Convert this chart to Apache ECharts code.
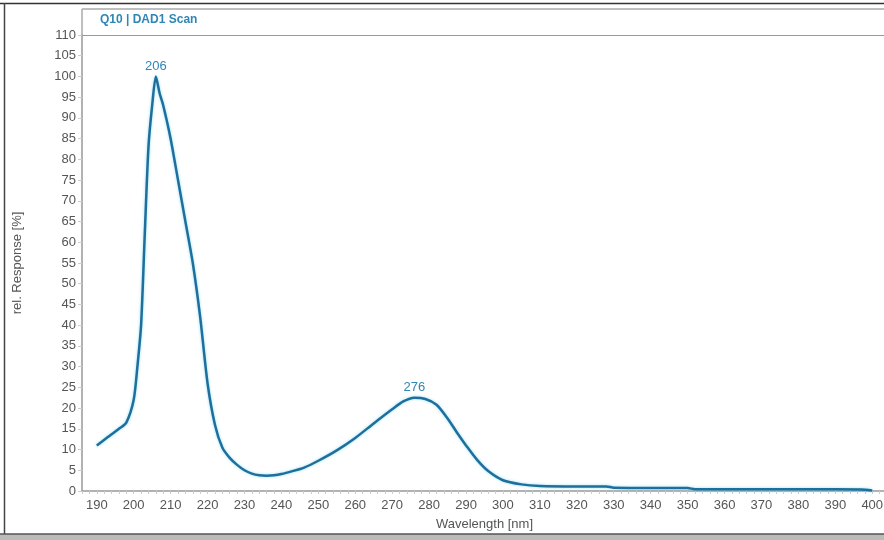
<!DOCTYPE html>
<html>
<head>
<meta charset="utf-8">
<script src="https://cdn.jsdelivr.net/npm/echarts@6/dist/echarts.min.js"></script>
<style>
html, body { margin:0; padding:0; background:#fff; }
#chart { width:884px; height:540px; }
</style>
</head>
<body>
<div id="chart"></div>
<script>
// spectrum
var wavelengths = [190, 193, 196, 198, 200, 201, 202, 203, 204, 205, 206, 207, 208, 210, 212, 214, 216, 218, 220, 222, 224, 226, 228, 230, 232, 234, 236, 238, 240, 243, 246, 250, 255, 260, 265, 270, 273, 276, 279, 282, 285, 288, 290, 293, 296, 300, 305, 310, 320, 328, 330, 350, 352, 370, 390, 397, 400];
var response = [11, 13, 15, 16.5, 22, 30, 40, 62, 83, 93, 100, 96, 93, 85, 75, 65, 55, 42, 26, 16, 10.5, 8, 6.3, 5, 4.2, 3.8, 3.7, 3.8, 4.1, 4.8, 5.6, 7.3, 9.8, 12.8, 16.3, 19.7, 21.6, 22.5, 22.2, 20.8, 17.5, 13.5, 11, 7.5, 4.8, 2.6, 1.6, 1.2, 1.1, 1.1, 0.8, 0.7, 0.45, 0.4, 0.4, 0.35, 0.1];
var peaks = [206, 276];
var xTicks = [190, 200, 210, 220, 230, 240, 250, 260, 270, 280, 290, 300, 310, 320, 330, 340, 350, 360, 370, 380, 390, 400];
var yTicks = [0, 5, 10, 15, 20, 25, 30, 35, 40, 45, 50, 55, 60, 65, 70, 75, 80, 85, 90, 95, 100, 105, 110];

var chart = echarts.init(document.getElementById('chart'));
var font = 'Liberation Sans, Arial, sans-serif';

var seriesData = [];
for (var i = 0; i < wavelengths.length; i++) {
	seriesData.push([wavelengths[i], response[i]]);
}

var peakMarks = [];
for (var j = 0; j < peaks.length; j++) {
	var k = wavelengths.indexOf(peaks[j]);
	peakMarks.push({ coord: [peaks[j], response[k]], value: peaks[j] });
}

chart.setOption({
	animation: false,
	textStyle: { fontFamily: font },
	grid: { left: 82, top: 35, right: -3, bottom: 49, outerBoundsMode: 'none' },
	xAxis: {
		type: 'value',
		min: 186,
		max: 404,
		interval: 2,
		name: 'Wavelength [nm]',
		nameLocation: 'middle',
		nameGap: 27,
		nameTextStyle: { color: '#555', fontSize: 13, fontFamily: font },
		axisLine: { lineStyle: { color: '#999', width: 1.5 } },
		axisTick: { show: true, length: 3, lineStyle: { color: '#ccc' } },
		axisLabel: {
			color: '#555', fontSize: 13, fontFamily: font, margin: 8,
			formatter: function (v) { return xTicks.indexOf(v) >= 0 ? String(v) : ''; }
		},
		splitLine: { show: false }
	},
	yAxis: {
		type: 'value',
		min: 0,
		max: 110,
		interval: 5,
		name: 'rel. Response [%]',
		nameLocation: 'middle',
		nameGap: 58,
		nameRotate: 90,
		nameTextStyle: { color: '#555', fontSize: 13, fontFamily: font },
		axisLine: { show: true, lineStyle: { color: '#999', width: 1.5 } },
		axisTick: { show: true, length: 4, lineStyle: { color: '#ccc' } },
		axisLabel: {
			color: '#555', fontSize: 13, fontFamily: font, margin: 6,
			formatter: function (v) { return yTicks.indexOf(v) >= 0 ? String(v) : ''; }
		},
		splitLine: { show: false }
	},
	graphic: [
		// outer frame
		{ type: 'line', shape: { x1: 0, y1: 3.5, x2: 884, y2: 3.5 }, style: { stroke: '#333', lineWidth: 1.5 } },
		{ type: 'line', shape: { x1: 4.5, y1: 3, x2: 4.5, y2: 535 }, style: { stroke: '#444', lineWidth: 1.5 } },
		{ type: 'rect', shape: { x: 0, y: 534, width: 884, height: 6 }, style: { fill: '#bbb' } },
		{ type: 'line', shape: { x1: 0, y1: 534, x2: 884, y2: 534 }, style: { stroke: '#555', lineWidth: 1.5 } },
		// title band of the plot panel
		{ type: 'line', shape: { x1: 82, y1: 9, x2: 884, y2: 9 }, style: { stroke: '#aaa', lineWidth: 1.5 } },
		{ type: 'line', shape: { x1: 82, y1: 9, x2: 82, y2: 35 }, style: { stroke: '#aaa', lineWidth: 1.5 } },
		{ type: 'line', shape: { x1: 82, y1: 35.5, x2: 884, y2: 35.5 }, style: { stroke: '#999', lineWidth: 1.2 } },
		{ type: 'text', left: 100, top: 14, style: { text: 'Q10 | DAD1 Scan', fill: '#2f86b6', font: 'bold 12px ' + font } }
	],
	series: [{
		type: 'line',
		data: seriesData,
		smooth: 0.25,
		symbol: 'none',
		clip: false,
		lineStyle: { color: '#1f6f9c', width: 2.5, shadowColor: 'rgba(80,200,240,0.6)', shadowBlur: 3 },
		markPoint: {
			symbol: 'circle',
			symbolSize: 1,
			itemStyle: { color: 'transparent' },
			label: {
				show: true, position: 'top', distance: 3,
				color: '#2f86b6', fontSize: 13, fontFamily: font,
				formatter: function (p) { return String(p.value); }
			},
			data: peakMarks
		}
	}]
});
</script>
</body>
</html>
